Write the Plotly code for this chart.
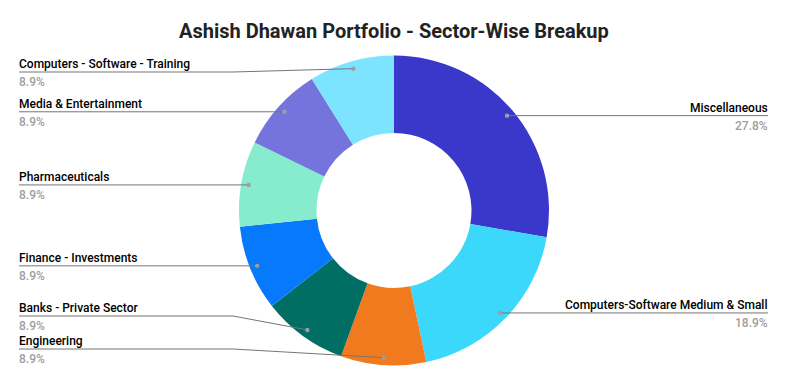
import math
import plotly.graph_objects as go

# ---- data ----
sectors = [
    "Miscellaneous",
    "Computers-Software Medium & Small",
    "Engineering",
    "Banks - Private Sector",
    "Finance - Investments",
    "Pharmaceuticals",
    "Media & Entertainment",
    "Computers - Software - Training",
]
shares = [27.8, 18.9, 8.9, 8.9, 8.9, 8.9, 8.9, 8.9]
colors = ["#3a37cb", "#3bd8fb", "#f27a1e", "#016e64", "#0779fc",
          "#87ecce", "#7573dc", "#7de4ff"]
title_text = "Ashish Dhawan Portfolio - Sector-Wise Breakup"

# ---- layout constants ----
W, H = 788, 385
CX, CY, R = 394, 210.5, 155
HOLE = 0.5
LEFT_X, RIGHT_X = 19, 768
LEFT_ELBOW, RIGHT_ELBOW = 233, 555
Y_MIN, Y_MAX, GAP = 72, 349, 33

def px(x):
    return x / W

def py(y):
    return 1 - y / H

fig = go.Figure(go.Pie(
    labels=sectors, values=shares, sort=False, direction="clockwise",
    rotation=0, hole=HOLE, marker=dict(colors=colors, line=dict(width=0)),
    textinfo="none", hoverinfo="label+percent", showlegend=False,
    domain=dict(x=[px(CX - R), px(CX + R)], y=[py(CY + R), py(CY - R)]),
))

total = sum(shares)
cum = 0
items = []
for name, v in zip(sectors, shares):
    mid = (cum + v / 2) / total * 2 * math.pi
    cum += v
    dx = CX + 0.952 * R * math.sin(mid)
    dy = CY - 0.952 * R * math.cos(mid)
    side = "right" if math.sin(mid) > 0 else "left"
    items.append(dict(name=name, pct=v / total * 100, dx=dx, dy=dy, side=side, ly=dy))

# collision avoidance per side
for side in ("left", "right"):
    grp = sorted([it for it in items if it["side"] == side], key=lambda it: it["dy"])
    for it in grp:
        it["ly"] = min(max(it["dy"], Y_MIN), Y_MAX)
    for i in range(len(grp) - 2, -1, -1):
        if grp[i + 1]["ly"] - grp[i]["ly"] < GAP:
            grp[i]["ly"] = grp[i + 1]["ly"] - GAP
    for i in range(1, len(grp)):
        if grp[i]["ly"] - grp[i - 1]["ly"] < GAP:
            grp[i]["ly"] = grp[i - 1]["ly"] + GAP

shapes, annos = [], []
lc = "#757575"
for it in items:
    if it["side"] == "left":
        xs = [LEFT_X, LEFT_ELBOW, it["dx"]]
        tx, anchor = LEFT_X, "left"
    else:
        xs = [RIGHT_X, RIGHT_ELBOW, it["dx"]]
        tx, anchor = RIGHT_X, "right"
    ys = [it["ly"], it["ly"], it["dy"]]
    path = "M {} {} L {} {} L {} {}".format(
        px(xs[0]), py(ys[0]), px(xs[1]), py(ys[1]), px(xs[2]), py(ys[2]))
    shapes.append(dict(type="path", xref="paper", yref="paper", path=path,
                       line=dict(color=lc, width=1)))
    shapes.append(dict(type="circle", xref="paper", yref="paper",
                       x0=px(it["dx"] - 2.2), x1=px(it["dx"] + 2.2),
                       y0=py(it["dy"] + 2.2), y1=py(it["dy"] - 2.2),
                       fillcolor="#9e9e9e", line=dict(width=0)))
    annos.append(dict(x=px(tx), y=py(it["ly"] - 1), xref="paper", yref="paper",
                      xanchor=anchor, yanchor="bottom", showarrow=False,
                      borderpad=0, borderwidth=0,
                      text=it["name"],
                      font=dict(family="Roboto", size=12, color="#000000", weight=500)))
    annos.append(dict(x=px(tx), y=py(it["ly"] + 3), xref="paper", yref="paper",
                      xanchor=anchor, yanchor="top", showarrow=False,
                      borderpad=0, borderwidth=0,
                      text="{:.1f}%".format(it["pct"]),
                      font=dict(family="Roboto", size=12, color="#9e9e9e", weight=500)))

annos.append(dict(x=0.5, y=py(31), xref="paper", yref="paper", xanchor="center",
                  yanchor="middle", showarrow=False, text="<b>" + title_text + "</b>",
                  font=dict(family="Roboto", size=20, color="#222222")))

fig.update_layout(width=W, height=H, margin=dict(l=0, r=0, t=0, b=0),
                  paper_bgcolor="white", plot_bgcolor="white",
                  shapes=shapes, annotations=annos)
fig.write_html("out.html", config={"displayModeBar": False},
               post_script="document.body.style.margin='0px';")
